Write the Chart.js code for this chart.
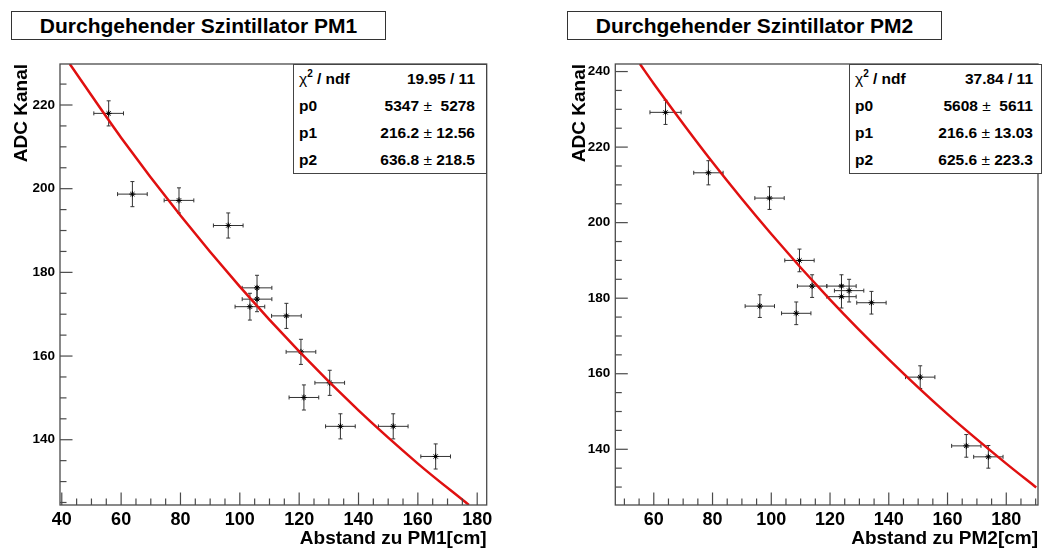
<!DOCTYPE html>
<html>
<head>
<meta charset="utf-8">
<script src="https://cdn.jsdelivr.net/npm/chart.js@4.4.1/dist/chart.umd.min.js"></script>
<style>
  body { margin: 0; background: #fff; width: 1043px; height: 548px; overflow: hidden; position: relative;
         font-family: "Liberation Sans", Arial, sans-serif; }
  canvas { position: absolute; top: 0; }
  .title { position: absolute; top: 11px; height: 29px; width: 375px; box-sizing: border-box;
           border: 1px solid #333; font-weight: bold; font-size: 21px; text-align: center; line-height: 27px; }
  .stats { position: absolute; top: 64px; height: 110px; box-sizing: border-box; border: 1px solid #444;
           background: #fff; font-weight: bold; font-size: 15.5px; padding-top: 0; }
  .stats .row { display: flex; justify-content: space-between; height: 27px; line-height: 27px; white-space: pre; }
  .stats sup { font-size: 10px; line-height: 0; position: relative; top: -1px; }
  .sym { font-weight: normal; }
</style>
</head>
<body>
<div class="title" style="left:11px">Durchgehender Szintillator PM1</div>
<div class="title" style="left:567px">Durchgehender Szintillator PM2</div>
<canvas id="pm1" width="521" height="548" style="left:0"></canvas>
<canvas id="pm2" width="513" height="548" style="left:530px"></canvas>
<div class="stats" style="left:293px; width:194px; padding-left:5px; padding-right:11px">
  <div class="row"><span><span class="sym">χ</span><sup>2</sup> / ndf</span><span>19.95 / 11</span></div>
  <div class="row"><span>p0</span><span>5347<span class="sym"> ± </span> 5278</span></div>
  <div class="row"><span>p1</span><span>216.2<span class="sym"> ± </span>12.56</span></div>
  <div class="row"><span>p2</span><span>636.8<span class="sym"> ± </span>218.5</span></div>
</div>
<div class="stats" style="left:849px; width:193px; padding-left:5px; padding-right:8px">
  <div class="row"><span><span class="sym">χ</span><sup>2</sup> / ndf</span><span>37.84 / 11</span></div>
  <div class="row"><span>p0</span><span>5608<span class="sym"> ± </span> 5611</span></div>
  <div class="row"><span>p1</span><span>216.6<span class="sym"> ± </span>13.03</span></div>
  <div class="row"><span>p2</span><span>625.6<span class="sym"> ± </span>223.3</span></div>
</div>
<script>
const pm1X    = [55.8, 63.8, 79.5, 96.1, 103.4, 105.8, 105.8, 115.7, 120.6, 121.6, 130.3, 133.9, 151.7, 166.0];
const pm1Y    = [218.0, 198.7, 197.2, 191.2, 171.8, 176.3, 173.6, 169.6, 161.0, 150.1, 153.6, 143.2, 143.2, 136.0];
const pm1XErr = [5, 5, 5, 5, 5, 5, 5, 5, 5, 5, 5, 5, 5, 5];
const pm1YErr = [3, 3, 3, 3, 3.2, 3, 3, 3, 3, 3, 3, 3, 3, 3];
const pm1FitX = [42.7, 60, 80, 100, 120, 140, 160, 177.2];
const pm1FitY = [229.8, 212.2, 193.6, 176.6, 161.1, 147.0, 134.3, 124.4];
const pm1XRange = [39.4, 183.2];
const pm1YRange = [124.4, 229.8];

// PM2 measurements
const pm2X    = [64.0, 78.6, 96.1, 99.4, 108.5, 109.6, 113.9, 123.9, 123.9, 126.5, 134.1, 150.7, 166.4, 173.9];
const pm2Y    = [229.2, 213.2, 177.9, 206.5, 176.0, 190.0, 183.2, 183.2, 180.4, 182.0, 178.8, 159.1, 140.9, 138.0];
const pm2XErr = [5.3, 5, 5, 5, 5, 5, 5, 5, 5, 5, 5, 5, 5, 5];
const pm2YErr = [3.2, 3.2, 3, 3, 3, 3, 3, 3, 3, 3, 3, 3, 3, 3];
const pm2FitX = [55.3, 60, 80, 100, 120, 140, 160, 180, 190.2];
const pm2FitY = [242.0, 236.8, 216.0, 197.0, 179.6, 163.8, 149.3, 136.2, 129.9];
const pm2XRange = [46.9, 190.8];
const pm2YRange = [125.25, 242];

const FONT = '"Liberation Sans", Arial, sans-serif';
const FRAME = '#4a4a4a';

function seg(ctx, x0, y0, x1, y1) {
    ctx.beginPath();
    ctx.moveTo(x0, y0);
    ctx.lineTo(x1, y1);
    ctx.stroke();
}

// error bars below the markers, ROOT style frame + inner ticks on top
const rootFrame = {
    id: 'rootFrame',
    beforeDatasetsDraw(chart) {
        const { ctx, scales: { x, y } } = chart;
        ctx.save();
        ctx.strokeStyle = '#333';
        ctx.lineWidth = 1;
        chart.data.datasets[1].data.forEach(p => {
            const cx = x.getPixelForValue(p.x), cy = y.getPixelForValue(p.y);
            const x0 = x.getPixelForValue(p.x - p.ex), x1 = x.getPixelForValue(p.x + p.ex);
            const y0 = y.getPixelForValue(p.y - p.ey), y1 = y.getPixelForValue(p.y + p.ey);
            seg(ctx, x0, cy, x1, cy);
            seg(ctx, cx, y0, cx, y1);
            seg(ctx, x0, cy - 2, x0, cy + 2);
            seg(ctx, x1, cy - 2, x1, cy + 2);
            seg(ctx, cx - 2, y0, cx + 2, y0);
            seg(ctx, cx - 2, y1, cx + 2, y1);
        });
        ctx.restore();
    },
    afterDraw(chart) {
        const { ctx, chartArea: a, scales: { x, y } } = chart;
        ctx.save();
        ctx.strokeStyle = FRAME;
        ctx.lineWidth = 1.3;
        ctx.strokeRect(a.left, a.top, a.right - a.left, a.bottom - a.top);
        ctx.lineWidth = 1.2;
        for (let v = Math.ceil(x.min / 5) * 5; v <= x.max; v += 5) {
            const p = x.getPixelForValue(v);
            seg(ctx, p, a.bottom, p, a.bottom - (v % 20 === 0 ? 12.5 : 6.5));
        }
        for (let v = Math.ceil(y.min / 5) * 5; v <= y.max; v += 5) {
            const p = y.getPixelForValue(v);
            seg(ctx, a.left, p, a.left + (v % 20 === 0 ? 12.5 : 6.5), p);
        }
        ctx.restore();
    }
};

function makeChart(canvasId, xs, ys, xErr, yErr, fitX, fitY, xRange, yRange, xTitle, layout) {
    const points = xs.map((v, i) => ({ x: v, y: ys[i], ex: xErr[i], ey: yErr[i] }));
    const fit = fitX.map((v, i) => ({ x: v, y: fitY[i] }));
    return new Chart(document.getElementById(canvasId).getContext('2d'), {
        type: 'scatter',
        data: {
            datasets: [
                { type: 'line', data: fit, borderColor: '#e01010', borderWidth: 2.5, pointRadius: 0,
                  cubicInterpolationMode: 'monotone', fill: false },
                { data: points, pointStyle: 'star', pointRadius: 3, borderColor: '#000', borderWidth: 1 }
            ]
        },
        options: {
            responsive: false,
            animation: false,
            devicePixelRatio: 1,
            layout: { padding: { top: 64, right: layout.right, left: 0, bottom: 0 } },
            plugins: { legend: { display: false }, tooltip: { enabled: false } },
            scales: {
                x: {
                    type: 'linear', min: xRange[0], max: xRange[1],
                    afterFit: s => { s.height = 43; },
                    grid: { display: false, drawTicks: false }, border: { display: false },
                    ticks: { stepSize: 20, includeBounds: false, padding: 4, maxRotation: 0, color: '#000',
                             font: { family: FONT, size: 18, weight: 'bold' } },
                    title: { display: true, text: xTitle, align: 'end', color: '#000', padding: 0,
                             font: { family: FONT, size: 19, weight: 'bold', lineHeight: 1 } }
                },
                y: {
                    type: 'linear', min: yRange[0], max: yRange[1],
                    afterFit: s => { s.width = layout.yWidth; },
                    grid: { display: false, drawTicks: false }, border: { display: false },
                    ticks: { stepSize: 20, includeBounds: false, padding: 5, color: '#000',
                             font: { family: FONT, size: 13.5, weight: 'bold' } },
                    title: { display: true, text: 'ADC Kanal', align: 'end', color: '#000',
                             padding: { top: layout.titlePad, bottom: 0 },
                             font: { family: FONT, size: 19, weight: 'bold', lineHeight: 1 } }
                }
            }
        },
        plugins: [rootFrame]
    });
}

makeChart('pm1', pm1X, pm1Y, pm1XErr, pm1YErr, pm1FitX, pm1FitY, pm1XRange, pm1YRange,
          'Abstand zu PM1[cm]', { right: 34.3, yWidth: 60, titlePad: 12.4 });
makeChart('pm2', pm2X, pm2Y, pm2XErr, pm2YErr, pm2FitX, pm2FitY, pm2XRange, pm2YRange,
          'Abstand zu PM2[cm]', { right: 1.3, yWidth: 85.3, titlePad: 40.7 });
</script>
</body>
</html>
